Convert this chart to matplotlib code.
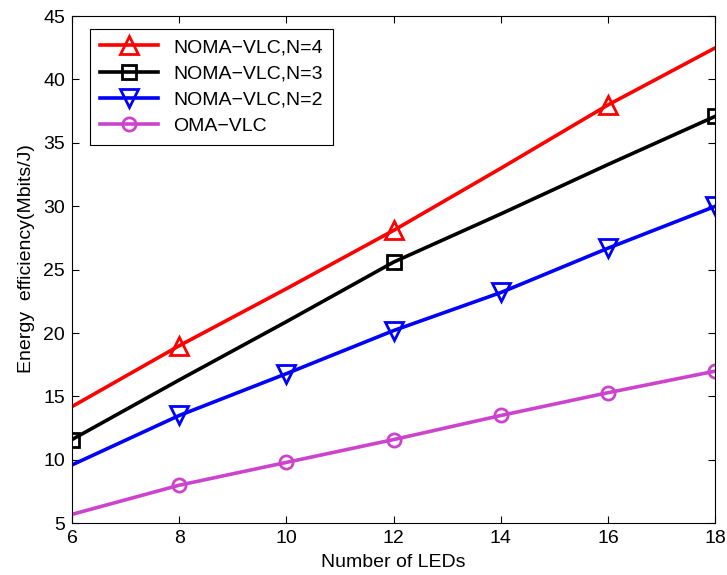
import matplotlib
matplotlib.use('Agg')
import matplotlib.pyplot as plt

plt.rcParams['font.family'] = ['Liberation Sans', 'DejaVu Sans']

# data
leds = [6, 8, 10, 12, 14, 16, 18]
noma_n4 = [14.2, 19.0, 23.5, 28.1, 33.0, 38.0, 42.5]
noma_n3 = [11.6, 16.3, 20.9, 25.6, 29.4, 33.3, 37.1]
noma_n2 = [9.6, 13.5, 16.8, 20.2, 23.2, 26.7, 30.0]
oma = [5.7, 8.0, 9.8, 11.6, 13.5, 15.3, 17.0]

labels = ['NOMA\u2212VLC,N=4', 'NOMA\u2212VLC,N=3', 'NOMA\u2212VLC,N=2', 'OMA\u2212VLC']
xticks = [6, 8, 10, 12, 14, 16, 18]
yticks = [5, 10, 15, 20, 25, 30, 35, 40, 45]

fig = plt.figure(figsize=(7.27, 5.75), dpi=100)
ax = fig.add_axes([0.099, 0.090, 0.885, 0.882])

lw = 2.6
ax.plot(leds, noma_n4, '-', color='red', linewidth=lw, marker='^', markersize=13,
        markerfacecolor='none', markeredgewidth=2, markevery=slice(1, None, 2), label=labels[0])
ax.plot(leds, noma_n3, '-', color='black', linewidth=lw, marker='s', markersize=9.5,
        markerfacecolor='none', markeredgewidth=2, markevery=3, label=labels[1])
ax.plot(leds, noma_n2, '-', color='blue', linewidth=lw, marker='v', markersize=13,
        markerfacecolor='none', markeredgewidth=2, markevery=slice(1, None), label=labels[2])
ax.plot(leds, oma, '-', color='#cc44cc', linewidth=lw, marker='o', markersize=9.5,
        markerfacecolor='none', markeredgewidth=2, markevery=slice(1, None), label=labels[3])

ax.set_xlim(6, 18)
ax.set_ylim(5, 45)
ax.set_xticks(xticks)
ax.set_yticks(yticks)
ax.tick_params(direction='in', top=True, right=True, labelsize=14, length=5, pad=5)
ax.set_xlabel('Number of LEDs', fontsize=14, labelpad=5)
ax.set_ylabel('Energy  efficiency(Mbits/J)', fontsize=14, labelpad=6)
ax.yaxis.label.set_y(0.522)

leg = ax.legend(loc='upper left', bbox_to_anchor=(0.028, 0.975), borderaxespad=0,
                fontsize=14, fancybox=False, framealpha=1, edgecolor='black',
                handlelength=3, labelspacing=0.45, borderpad=0.5)
leg.get_frame().set_linewidth(0.8)

plt.savefig('out.png', dpi=100)
